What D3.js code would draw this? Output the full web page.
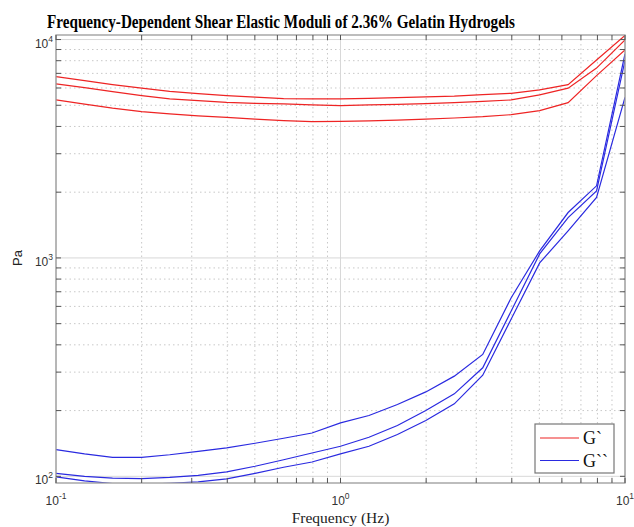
<!DOCTYPE html>
<html>
<head>
<meta charset="utf-8">
<script src="https://cdn.jsdelivr.net/npm/d3@7"></script>
<style>
  body { margin: 0; background: #fff; }
  svg { display: block; }
</style>
</head>
<body>
<div id="chart"></div>
<script>
// frequencies (Hz), 10 points per decade
var freqs = [0.1, 0.126, 0.158, 0.2, 0.251, 0.316, 0.398, 0.501, 0.631, 0.794,
             1, 1.259, 1.585, 1.995, 2.512, 3.162, 3.981, 5.012, 6.31, 7.943, 10];

// storage modulus G` (Pa), three samples
var gPrimeA = [6760, 6485, 6218, 5991, 5793, 5653, 5534, 5447, 5360, 5345,
               5345, 5379, 5420, 5459, 5505, 5593, 5672, 5877, 6218, 8054, 10430];
var gPrimeB = [6263, 6024, 5773, 5534, 5345, 5250, 5156, 5104, 5070, 5018,
               4980, 5018, 5049, 5087, 5140, 5212, 5289, 5575, 5991, 7403, 9970];
var gPrimeC = [5289, 5060, 4851, 4675, 4563, 4467, 4402, 4319, 4250, 4207,
               4220, 4242, 4273, 4319, 4373, 4435, 4529, 4725, 5140, 6837, 8970];

// loss modulus G`` (Pa), three samples
var gDoubleA = [132.6, 126.8, 122.2, 122.2, 125.5, 130.2, 135.1, 141.7, 149.4, 157.9,
                175.6, 189.9, 213.3, 243.5, 287.6, 361.6, 657.5, 1077, 1614, 2139, 8597];
var gDoubleB = [103.2, 100, 98.2, 97.6, 98.9, 101.1, 104.9, 111.2, 119.1, 127.9,
                137.3, 151, 170.9, 200.3, 238.5, 314.1, 571.4, 1043, 1531, 2029, 8012];
var gDoubleC = [99.5, 95.4, 92.6, 91.9, 92.9, 94.4, 97.4, 103.2, 110, 116.3,
                126.6, 137.3, 155.3, 180.1, 214.7, 290.5, 525.2, 948.6, 1330, 1891, 5436];

var xMajor = [0.1, 1, 10];
var xMajorExp = ["-1", "0", "1"];
var xMinor = [0.2, 0.3, 0.4, 0.5, 0.6, 0.7, 0.8, 0.9, 2, 3, 4, 5, 6, 7, 8, 9];
var yMajor = [100, 1000, 10000];
var yMajorExp = ["2", "3", "4"];
var yMinor = [200, 300, 400, 500, 600, 700, 800, 900,
              2000, 3000, 4000, 5000, 6000, 7000, 8000, 9000];

var seriesNames = ["G`", "G``"];
var seriesColors = ["#ee2424", "#2a2ae0"];

var W = 634, H = 527;
var margin = {top: 35, right: 9, bottom: 44, left: 56},
    width = W - margin.left - margin.right,
    height = H - margin.top - margin.bottom;

var svg = d3.select("#chart").append("svg")
    .attr("width", W)
    .attr("height", H);

var g = svg.append("g")
    .attr("transform", "translate(" + margin.left + "," + margin.top + ")");

var x = d3.scaleLog().domain([0.1, 10]).range([0, width]);
var y = d3.scaleLog().domain([93.2, 10490]).range([height, 0]);

// grid
g.selectAll(".xminor").data(xMinor).enter().append("line")
    .attr("x1", function(d){ return x(d); }).attr("x2", function(d){ return x(d); })
    .attr("y1", 0).attr("y2", height)
    .attr("stroke", "#c8c8c8").attr("stroke-dasharray", "1.5,3");
g.selectAll(".yminor").data(yMinor).enter().append("line")
    .attr("y1", function(d){ return y(d); }).attr("y2", function(d){ return y(d); })
    .attr("x1", 0).attr("x2", width)
    .attr("stroke", "#c8c8c8").attr("stroke-dasharray", "1.5,3");
g.selectAll(".xmajor").data(xMajor).enter().append("line")
    .attr("x1", function(d){ return x(d); }).attr("x2", function(d){ return x(d); })
    .attr("y1", 0).attr("y2", height)
    .attr("stroke", "#d8d8d8");
g.selectAll(".ymajor").data(yMajor).enter().append("line")
    .attr("y1", function(d){ return y(d); }).attr("y2", function(d){ return y(d); })
    .attr("x1", 0).attr("x2", width)
    .attr("stroke", "#d8d8d8");

// data lines
g.append("clipPath").attr("id", "clip")
    .append("rect").attr("width", width).attr("height", height);

var line = d3.line()
    .x(function(d, i){ return x(freqs[i]); })
    .y(function(d){ return y(d); });

var curves = [
    {data: gPrimeA, s: 0}, {data: gPrimeB, s: 0}, {data: gPrimeC, s: 0},
    {data: gDoubleA, s: 1}, {data: gDoubleB, s: 1}, {data: gDoubleC, s: 1}
];

g.append("g").attr("clip-path", "url(#clip)")
    .selectAll("path").data(curves).enter().append("path")
    .attr("d", function(d){ return line(d.data); })
    .attr("fill", "none")
    .attr("stroke", function(d){ return seriesColors[d.s]; })
    .attr("stroke-width", 1.2);

// frame
g.append("rect")
    .attr("width", width).attr("height", height)
    .attr("fill", "none").attr("stroke", "#9a9a9a").attr("stroke-width", 1.3);

// ticks (inside, all four sides)
var tickLen = 5;
var xt = xMajor.concat(xMinor), yt = yMajor.concat(yMinor);
xt.forEach(function(d){
    g.append("line").attr("x1", x(d)).attr("x2", x(d)).attr("y1", height).attr("y2", height - tickLen)
        .attr("stroke", "#555");
    g.append("line").attr("x1", x(d)).attr("x2", x(d)).attr("y1", 0).attr("y2", tickLen)
        .attr("stroke", "#555");
});
yt.forEach(function(d){
    g.append("line").attr("y1", y(d)).attr("y2", y(d)).attr("x1", 0).attr("x2", tickLen)
        .attr("stroke", "#555");
    g.append("line").attr("y1", y(d)).attr("y2", y(d)).attr("x1", width).attr("x2", width - tickLen)
        .attr("stroke", "#555");
});

// tick labels
var tickFont = "'Liberation Sans', Arial, Helvetica, sans-serif";
xMajor.forEach(function(d, i){
    var t = g.append("text")
        .attr("x", x(d)).attr("y", height + 22)
        .attr("text-anchor", "middle")
        .style("font-family", tickFont).style("font-size", "12px").style("fill", "#333");
    t.append("tspan").text("10");
    t.append("tspan").attr("dy", -6).style("font-size", "8.5px").text(xMajorExp[i]);
});
yMajor.forEach(function(d, i){
    var t = g.append("text")
        .attr("x", -3).attr("y", y(d) + 8)
        .attr("text-anchor", "end")
        .style("font-family", tickFont).style("font-size", "12px").style("fill", "#333");
    t.append("tspan").text("10");
    t.append("tspan").attr("dy", -6).style("font-size", "8.5px").text(yMajorExp[i]);
});

// axis labels
svg.append("text")
    .attr("x", margin.left + x(1)).attr("y", 523)
    .attr("text-anchor", "middle")
    .style("font-family", "'Liberation Serif', 'Times New Roman', serif")
    .style("font-size", "15.5px").style("fill", "#222")
    .text("Frequency (Hz)");

svg.append("text")
    .attr("transform", "translate(22," + (margin.top + y(1000)) + ") rotate(-90)")
    .attr("text-anchor", "middle")
    .style("font-family", tickFont).style("font-size", "13px").style("fill", "#222")
    .text("Pa");

// title (the source is a narrow bold serif, so squeeze it to its width)
svg.append("text")
    .attr("x", 47).attr("y", 27.5)
    .attr("textLength", 468).attr("lengthAdjust", "spacingAndGlyphs")
    .style("font-family", "'Liberation Serif', 'Times New Roman', serif")
    .style("font-weight", "bold").style("font-size", "18px").style("fill", "#000")
    .text("Frequency-Dependent Shear Elastic Moduli of 2.36% Gelatin Hydrogels");

// legend
var legend = svg.append("g").attr("transform", "translate(535,424)");
legend.append("rect")
    .attr("width", 79).attr("height", 49)
    .attr("fill", "#fff").attr("stroke", "#777").attr("stroke-width", 1.2);
seriesNames.forEach(function(name, i){
    var ly = 14 + i * 22.5;
    legend.append("line")
        .attr("x1", 5).attr("x2", 44).attr("y1", ly).attr("y2", ly)
        .attr("stroke", seriesColors[i]).attr("stroke-width", 1.2);
    legend.append("text")
        .attr("x", 48).attr("y", ly + 6)
        .style("font-family", "'Liberation Serif', 'Times New Roman', serif")
        .style("font-size", "18px").style("fill", "#111")
        .text(name);
});
</script>
</body>
</html>
